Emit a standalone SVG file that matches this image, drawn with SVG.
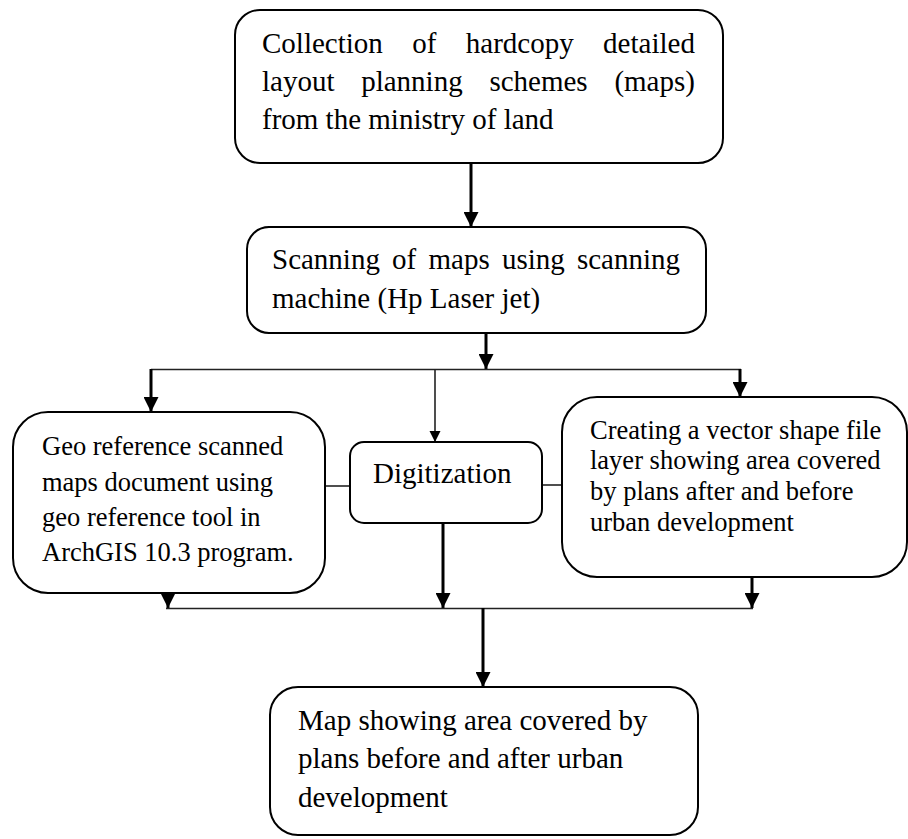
<svg xmlns="http://www.w3.org/2000/svg" width="908" height="839" viewBox="0 0 908 839">
<defs>
<style>
.box{fill:#fff;stroke:#000;stroke-width:2}
.t{font-family:"Liberation Serif","Times New Roman",serif;fill:#000}
.big{font-size:29px}
.mid{font-size:26.5px}
.thick{stroke:#000;stroke-width:3;fill:none}
.thin{stroke:#222;stroke-width:1.6;fill:none}
</style>
<marker id="ah" markerWidth="5" markerHeight="5" refX="5" refY="2.5" orient="auto" markerUnits="strokeWidth">
<path d="M0,0 L5,2.5 L0,5 Z" fill="#000"/>
</marker>
<marker id="ahs" markerWidth="7" markerHeight="7" refX="7" refY="3.5" orient="auto" markerUnits="strokeWidth">
<path d="M0,0 L7,3.5 L0,7 Z" fill="#000"/>
</marker>
</defs>
<rect width="908" height="839" fill="#fff"/>
<g id="connectors">
<line class="thick" x1="471" y1="163" x2="471" y2="227" marker-end="url(#ah)"/>
<line class="thick" x1="486" y1="333" x2="486" y2="369" marker-end="url(#ah)"/>
<line class="thin" x1="151" y1="369.5" x2="741" y2="369.5"/>
<line class="thick" x1="151" y1="369" x2="151" y2="412" marker-end="url(#ah)"/>
<line class="thin" x1="435" y1="369" x2="435" y2="442" marker-end="url(#ahs)"/>
<line class="thick" x1="740" y1="369" x2="740" y2="397" marker-end="url(#ah)"/>
<line class="thin" x1="325" y1="486" x2="350" y2="486"/>
<line class="thin" x1="542" y1="485" x2="562" y2="485"/>
<line class="thick" x1="168" y1="588" x2="168" y2="608" marker-end="url(#ah)"/>
<line class="thick" x1="443" y1="523" x2="443" y2="608" marker-end="url(#ah)"/>
<line class="thick" x1="752" y1="577" x2="752" y2="608" marker-end="url(#ah)"/>
<line class="thin" x1="166" y1="608.5" x2="753" y2="608.5"/>
<line class="thick" x1="483" y1="608" x2="483" y2="687" marker-end="url(#ah)"/>
</g>
<g id="collection">
<rect class="box" x="235" y="10" width="488" height="153" rx="25"/>
<text class="t big" y="53"><tspan x="262">Collection</tspan><tspan x="412.2">of</tspan><tspan x="465.8">hardcopy</tspan><tspan x="603.1">detailed</tspan></text>
<text class="t big" y="91"><tspan x="262">layout</tspan><tspan x="361.2">planning</tspan><tspan x="489.4">schemes</tspan><tspan x="614.4">(maps)</tspan></text>
<text class="t big" x="262" y="129">from the ministry of land</text>
</g>
<g id="scanning">
<rect class="box" x="247" y="227" width="459" height="106" rx="22"/>
<text class="t big" y="269"><tspan x="272">Scanning</tspan><tspan x="392.1">of</tspan><tspan x="428.5">maps</tspan><tspan x="501.9">using</tspan><tspan x="576.9">scanning</tspan></text>
<text class="t big" x="272" y="308">machine (Hp Laser jet)</text>
</g>
<g id="georeference">
<rect class="box" x="13" y="412" width="312" height="181" rx="35"/>
<text class="t mid" x="42" y="455">Geo reference scanned</text>
<text class="t mid" x="42" y="491">maps document using</text>
<text class="t mid" x="42" y="526">geo reference tool in</text>
<text class="t mid" x="42" y="561">ArchGIS 10.3 program.</text>
</g>
<g id="digitization">
<rect class="box" x="350" y="442" width="192" height="81" rx="14"/>
<text class="t big" x="373" y="483">Digitization</text>
</g>
<g id="vector">
<rect class="box" x="562" y="397" width="345" height="180" rx="35"/>
<text class="t mid" x="590" y="439">Creating a vector shape file</text>
<text class="t mid" x="590" y="469">layer showing area covered</text>
<text class="t mid" x="590" y="500">by plans after and before</text>
<text class="t mid" x="590" y="531">urban development</text>
</g>
<g id="result">
<rect class="box" x="270" y="687" width="428" height="148" rx="28"/>
<text class="t big" x="298" y="730">Map showing area covered by</text>
<text class="t big" x="298" y="768">plans before and after urban</text>
<text class="t big" x="298" y="807">development</text>
</g>
</svg>
